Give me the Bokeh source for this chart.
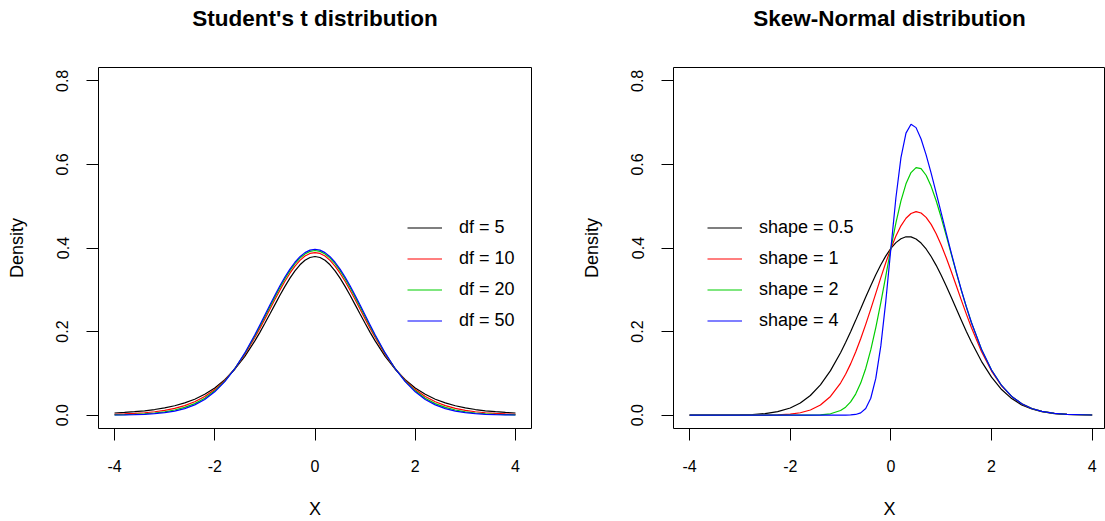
from bokeh.plotting import figure
from bokeh.layouts import row
from bokeh.models import Range1d, FixedTicker, PrintfTickFormatter, Legend, LegendItem, Title
from bokeh.embed import file_html
from bokeh.resources import INLINE

# ---------------- data ----------------
t_x = [-4.0, -3.8, -3.6, -3.4, -3.2, -3.0, -2.8, -2.6, -2.4, -2.2, -2.0, -1.8, -1.6, -1.4,
       -1.2, -1.1, -1.0, -0.9, -0.8, -0.7, -0.6, -0.5, -0.4, -0.3, -0.2, -0.1, 0.0,
       0.1, 0.2, 0.3, 0.4, 0.5, 0.6, 0.7, 0.8, 0.9, 1.0, 1.1, 1.2,
       1.4, 1.6, 1.8, 2.0, 2.2, 2.4, 2.6, 2.8, 3.0, 3.2, 3.4, 3.6, 3.8, 4.0]
t_df5 = [0.0051, 0.0065, 0.0082, 0.0104, 0.0134, 0.0173, 0.0224, 0.0292, 0.0381, 0.0498, 0.0651,
         0.0848, 0.1098, 0.1407,
         0.1777, 0.1981, 0.2197, 0.2419, 0.2645, 0.2868, 0.3081, 0.3279, 0.3454, 0.3598, 0.3706,
         0.3773, 0.3796, 0.3773, 0.3706, 0.3598, 0.3454, 0.3279, 0.3081, 0.2868, 0.2645, 0.2419,
         0.2197, 0.1981, 0.1777,
         0.1407, 0.1098, 0.0848, 0.0651, 0.0498, 0.0381, 0.0292, 0.0224, 0.0173, 0.0134, 0.0104,
         0.0082, 0.0065, 0.0051]
t_df10 = [0.0020, 0.0029, 0.0040, 0.0057, 0.0081, 0.0114, 0.0161, 0.0227, 0.0319, 0.0444, 0.0611,
          0.0831, 0.1111, 0.1454,
          0.1857, 0.2076, 0.2304, 0.2535, 0.2766, 0.2991, 0.3203, 0.3397, 0.3566, 0.3704, 0.3807,
          0.3870, 0.3891, 0.3870, 0.3807, 0.3704, 0.3566, 0.3397, 0.3203, 0.2991, 0.2766, 0.2535,
          0.2304, 0.2076, 0.1857,
          0.1454, 0.1111, 0.0831, 0.0611, 0.0444, 0.0319, 0.0227, 0.0161, 0.0114, 0.0081, 0.0057,
          0.0040, 0.0029, 0.0020]
t_df20 = [0.0008, 0.0013, 0.0021, 0.0033, 0.0051, 0.0080, 0.0122, 0.0185, 0.0276, 0.0405, 0.0581,
          0.0814, 0.1112, 0.1476,
          0.1899, 0.2126, 0.2360, 0.2597, 0.2830, 0.3056, 0.3267, 0.3458, 0.3624, 0.3758, 0.3858,
          0.3919, 0.3940, 0.3919, 0.3858, 0.3758, 0.3624, 0.3458, 0.3267, 0.3056, 0.2830, 0.2597,
          0.2360, 0.2126, 0.1899,
          0.1476, 0.1112, 0.0814, 0.0581, 0.0405, 0.0276, 0.0185, 0.0122, 0.0080, 0.0051, 0.0033,
          0.0021, 0.0013, 0.0008]
t_df50 = [0.0003, 0.0006, 0.0011, 0.0020, 0.0034, 0.0058, 0.0097, 0.0156, 0.0246, 0.0376, 0.0558,
          0.0801, 0.1111, 0.1489,
          0.1924, 0.2157, 0.2396, 0.2635, 0.2870, 0.3096, 0.3306, 0.3495, 0.3659, 0.3792, 0.3889,
          0.3949, 0.3970, 0.3949, 0.3889, 0.3792, 0.3659, 0.3495, 0.3306, 0.3096, 0.2870, 0.2635,
          0.2396, 0.2157, 0.1924,
          0.1489, 0.1111, 0.0801, 0.0558, 0.0376, 0.0246, 0.0156, 0.0097, 0.0058, 0.0034, 0.0020,
          0.0011, 0.0006, 0.0003]
t_labels = ["df = 5", "df = 10", "df = 20", "df = 50"]

sn_x = [-4.0, -3.5, -3.0, -2.75, -2.5, -2.25, -2.0, -1.8, -1.6, -1.4, -1.2, -1.0, -0.9, -0.8,
        -0.7, -0.6, -0.5, -0.4, -0.3, -0.2, -0.1, 0.0, 0.1, 0.2, 0.3, 0.4, 0.5, 0.6, 0.7, 0.8,
        0.9, 1.0, 1.1, 1.2, 1.3, 1.4, 1.5, 1.6, 1.8, 2.0, 2.2, 2.4, 2.6, 2.8, 3.0, 3.25, 3.5, 4.0]
sn_05 = [0.0000, 0.0001, 0.0006, 0.0015, 0.0037, 0.0083, 0.0171, 0.0291, 0.0470, 0.0725, 0.1065,
         0.1493, 0.1737, 0.1996, 0.2268, 0.2546, 0.2826, 0.3099, 0.3359, 0.3599, 0.3811, 0.3989,
         0.4128, 0.4222, 0.4269, 0.4266, 0.4216, 0.4118, 0.3977, 0.3797, 0.3585, 0.3346, 0.3088,
         0.2819, 0.2544, 0.2270, 0.2003, 0.1748, 0.1288, 0.0909, 0.0613, 0.0396, 0.0245, 0.0146,
         0.0083, 0.0038, 0.0017, 0.0003]
sn_1 = [0.0000, 0.0000, 0.0000, 0.0001, 0.0002, 0.0008, 0.0025, 0.0057, 0.0122, 0.0242, 0.0447,
        0.0768, 0.0980, 0.1227, 0.1511, 0.1828, 0.2173, 0.2538, 0.2914, 0.3291, 0.3653, 0.3989,
        0.4286, 0.4530, 0.4713, 0.4827, 0.4869, 0.4837, 0.4734, 0.4566, 0.4342, 0.4072, 0.3766,
        0.3437, 0.3096, 0.2753, 0.2417, 0.2097, 0.1522, 0.1055, 0.0700, 0.0444, 0.0270, 0.0158,
        0.0089, 0.0041, 0.0017, 0.0003]
sn_2 = [0.0000, 0.0000, 0.0000, 0.0000, 0.0000, 0.0000, 0.0000, 0.0000, 0.0002, 0.0008, 0.0032,
        0.0110, 0.0191, 0.0317, 0.0504, 0.0767, 0.1117, 0.1560, 0.2092, 0.2695, 0.3340, 0.3989,
        0.4599, 0.5126, 0.5536, 0.5805, 0.5924, 0.5898, 0.5741, 0.5476, 0.5130, 0.4729, 0.4296,
        0.3852, 0.3411, 0.2987, 0.2587, 0.2217, 0.1579, 0.1080, 0.0710, 0.0448, 0.0272, 0.0158,
        0.0089, 0.0041, 0.0017, 0.0003]
sn_4 = [0.0000, 0.0000, 0.0000, 0.0000, 0.0000, 0.0000, 0.0000, 0.0000, 0.0000, 0.0000, 0.0000,
        0.0000, 0.0001, 0.0004, 0.0016, 0.0055, 0.0160, 0.0404, 0.0878, 0.1657, 0.2736, 0.3989,
        0.5203, 0.6164, 0.6750, 0.6962, 0.6881, 0.6610, 0.6229, 0.5790, 0.5321, 0.4839, 0.4357,
        0.3884, 0.3427, 0.2995, 0.2590, 0.2218, 0.1579, 0.1080, 0.0710, 0.0448, 0.0272, 0.0158,
        0.0089, 0.0041, 0.0017, 0.0003]
sn_labels = ["shape = 0.5", "shape = 1", "shape = 2", "shape = 4"]

colors = ["#000000", "#FF0000", "#00CD00", "#0000FF"]
x_ticks = [-4, -2, 0, 2, 4]
y_ticks = [0.0, 0.2, 0.4, 0.6, 0.8]

FONT = "Liberation Sans"


def make_panel(title, xs, series, labels, width, border_left, border_right, x_end):
    p = figure(width=width, height=521, output_backend="svg", toolbar_location=None,
               x_range=Range1d(-4.32, x_end), y_range=Range1d(-0.032, 0.832),
               min_border_left=border_left, min_border_right=border_right,
               min_border_top=65, min_border_bottom=92,
               x_axis_label="X", y_axis_label="Density")
    # spacer between frame and title, then the title itself
    p.add_layout(Title(text=" ", text_font_size="1px", standoff=27), "above")
    p.add_layout(Title(text=title, text_font=FONT, text_font_size="22.5px",
                       text_font_style="bold", align="center", text_color="#000000",
                       vertical_align="top", standoff=10), "above")

    p.grid.visible = False
    p.outline_line_color = "#000000"
    p.outline_line_width = 1
    p.background_fill_color = "white"
    p.border_fill_color = "white"

    for ax in (p.xaxis[0], p.yaxis[0]):
        ax.axis_line_color = None
        ax.major_tick_in = 0
        ax.major_tick_out = 12
        ax.major_tick_line_color = "#000000"
        ax.minor_tick_line_color = None
        ax.major_label_text_font = FONT
        ax.major_label_text_font_size = "16px"
        ax.major_label_text_color = "#000000"
        ax.axis_label_text_font = FONT
        ax.axis_label_text_font_size = "18px"
        ax.axis_label_text_font_style = "normal"
        ax.axis_label_text_color = "#000000"

    p.xaxis.ticker = FixedTicker(ticks=x_ticks)
    p.xaxis.formatter = PrintfTickFormatter(format="%d")
    p.xaxis.major_label_standoff = 19
    p.xaxis.axis_label_standoff = 24

    p.yaxis.ticker = FixedTicker(ticks=y_ticks)
    p.yaxis.formatter = PrintfTickFormatter(format="%.1f")
    p.yaxis.major_label_orientation = "vertical"
    p.yaxis.major_label_standoff = 18
    p.yaxis.axis_label_standoff = 27

    items = []
    for ys, col, lab in zip(series, colors, labels):
        r = p.line(xs, ys, line_color=col, line_width=1.2)
        items.append(LegendItem(label=lab, renderers=[r]))

    leg = Legend(items=items, location=(0, 0))
    leg.border_line_color = None
    leg.background_fill_alpha = 0
    leg.padding = 0
    leg.margin = 0
    leg.spacing = 10
    leg.glyph_width = 35
    leg.glyph_height = 21
    leg.label_height = 21
    leg.label_standoff = 17
    leg.label_text_font = FONT
    leg.label_text_font_size = "18px"
    leg.label_text_color = "#000000"
    p.add_layout(leg, "center")
    return p, leg


p1, leg1 = make_panel("Student's t distribution", t_x, [t_df5, t_df10, t_df20, t_df50],
                      t_labels, 560, 98, 29, 4.32)
leg1.location = (309, 97)

p2, leg2 = make_panel("Skew-Normal distribution", sn_x, [sn_05, sn_1, sn_2, sn_4],
                      sn_labels, 545, 113, 0, 4.265)
leg2.location = (34, 97)

layout = row(p1, p2, spacing=0)
open("out.html", "w").write(file_html(layout, INLINE))
